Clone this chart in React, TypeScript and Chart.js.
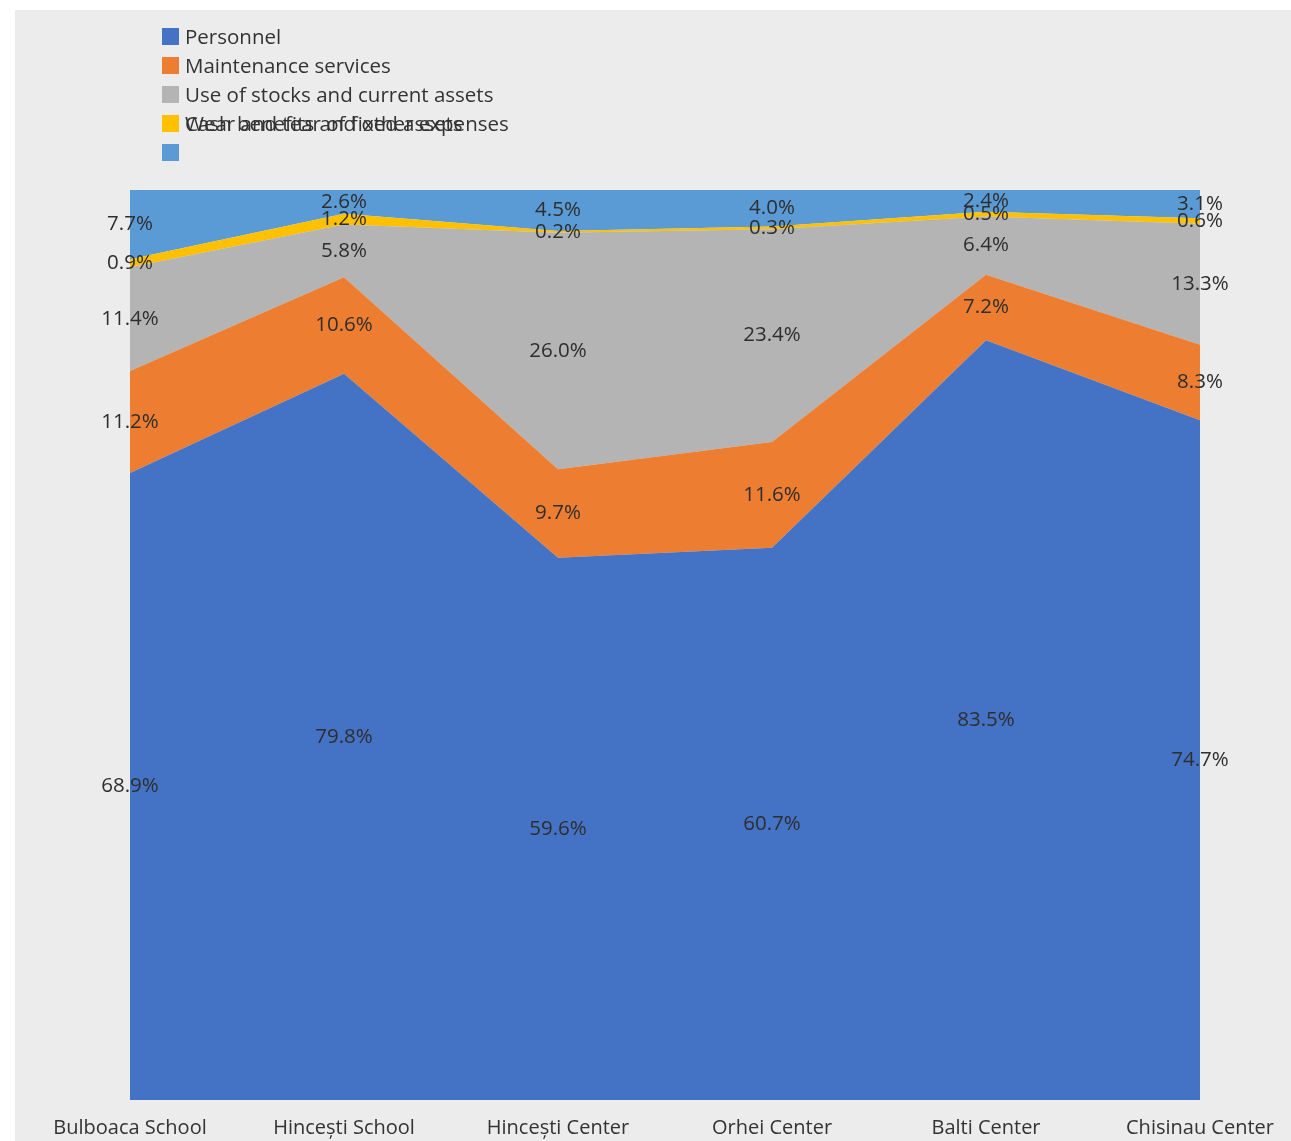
import React, { useEffect, useRef } from "react";
import { Chart, registerables } from "chart.js";

Chart.register(...registerables);

const categories = ["Bulboaca School", "Hincești School", "Hincești Center", "Orhei Center", "Balti Center", "Chisinau Center"];
const personnel = [68.9, 79.8, 59.6, 60.7, 83.5, 74.7];
const maintenance = [11.2, 10.6, 9.7, 11.6, 7.2, 8.3];
const stocks = [11.4, 5.8, 26.0, 23.4, 6.4, 13.3];
const cashBenefits = [0.9, 1.2, 0.2, 0.3, 0.5, 0.6];
const wearTear = [7.7, 2.6, 4.5, 4.0, 2.4, 3.1];

const seriesNames = ["Personnel", "Maintenance services", "Use of stocks and current assets", "Cash benefits and other expenses", "Wear and tear of fixed assets"];
const seriesColors = ["#4472C4", "#ED7D31", "#B4B4B4", "#FFC000", "#5B9BD5"];
const seriesValues = [personnel, maintenance, stocks, cashBenefits, wearTear];

const FONT = "'Open Sans', 'DejaVu Sans', sans-serif";

const labelPlugin = {
  id: "segLabels",
  afterDatasetsDraw(chart: any) {
    const ctx = chart.ctx;
    const yScale = chart.scales.y;
    ctx.save();
    ctx.font = `20.5px ${FONT}`;
    ctx.fillStyle = "#2e2e2e";
    ctx.textAlign = "center";
    ctx.textBaseline = "middle";
    chart.data.datasets.forEach((ds: any, i: number) => {
      const meta = chart.getDatasetMeta(i);
      const prev = i > 0 ? chart.getDatasetMeta(i - 1) : null;
      meta.data.forEach((pt: any, j: number) => {
        const top = pt.y;
        const bottom = prev ? prev.data[j].y : yScale.getPixelForValue(0);
        const mid = (top + bottom) / 2;
        ctx.fillText(ds.data[j].toFixed(1) + "%", pt.x, mid);
      });
    });
    ctx.restore();
  },
};

function ChartCanvas() {
  const ref = useRef<HTMLCanvasElement | null>(null);
  useEffect(() => {
    if (!ref.current) return;
    const chart = new Chart(ref.current, {
      type: "line",
      data: {
        labels: categories,
        datasets: seriesValues.map((vals, i) => ({
          label: seriesNames[i],
          data: vals,
          backgroundColor: seriesColors[i],
          borderColor: seriesColors[i],
          borderWidth: 0,
          pointRadius: 0,
          tension: 0,
          fill: i === 0 ? "origin" : "-1",
        })),
      },
      options: {
        animation: false,
        responsive: false,
        maintainAspectRatio: false,
        layout: { padding: { left: 130, right: 91, top: 190, bottom: 2 } },
        plugins: { legend: { display: false }, tooltip: { enabled: false } },
        scales: {
          x: {
            offset: false,
            grid: { display: false, drawTicks: false },
            border: { display: false },
            ticks: { font: { size: 20, family: FONT }, color: "#333", padding: 16, maxRotation: 0, autoSkip: false },
          },
          y: {
            display: false,
            stacked: true,
            min: 0,
            max: 100,
          },
        },
      },
      plugins: [labelPlugin],
    });
    return () => chart.destroy();
  }, []);
  return <canvas ref={ref} width={1291} height={1158} style={{ position: "absolute", left: 0, top: 0 }} />;
}

export default function App() {
  const legendRows = [0, 1, 2, 3, 4];
  return (
    <div style={{ position: "absolute", left: 0, top: 0, width: 1291, height: 1141, background: "#ffffff", overflow: "hidden" }}>
      <div style={{ position: "absolute", left: 15, top: 10, width: 1276, height: 1131, background: "#ececec" }} />
      <ChartCanvas />
      <div style={{ position: "absolute", left: 162, top: 23, fontFamily: FONT, fontSize: 20.5, color: "#333" }}>
        {legendRows.map((i) => (
          <div key={i} style={{ position: "absolute", left: 0, top: i * 29, height: 26, whiteSpace: "nowrap" }}>
            <span style={{ position: "absolute", left: 0, top: 5, width: 17, height: 17, background: seriesColors[i] }} />
            {i === 3 ? (
              <>
                <span style={{ position: "absolute", left: 23, top: 0, lineHeight: "26px" }}>{seriesNames[3]}</span>
                <span style={{ position: "absolute", left: 23, top: 0, lineHeight: "26px" }}>{seriesNames[4]}</span>
              </>
            ) : i === 4 ? null : (
              <span style={{ position: "absolute", left: 23, top: 0, lineHeight: "26px" }}>{seriesNames[i]}</span>
            )}
          </div>
        ))}
      </div>
    </div>
  );
}
